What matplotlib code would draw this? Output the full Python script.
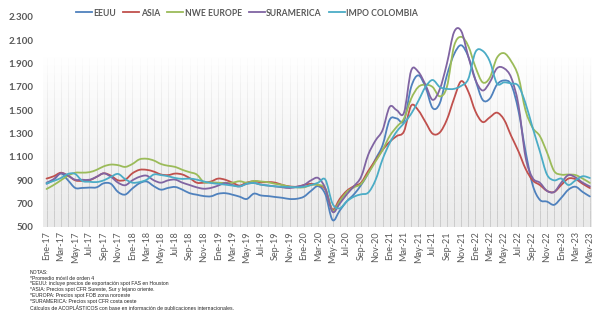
import matplotlib
matplotlib.use("Agg")
import matplotlib.pyplot as plt
import numpy as np
from matplotlib.ticker import FuncFormatter, FixedLocator
from matplotlib.collections import LineCollection
from matplotlib.path import Path
from matplotlib.patches import PathPatch
from matplotlib.lines import Line2D

# ---------------- data ----------------
month_names = ["Ene", "Feb", "Mar", "Abr", "May", "Jun", "Jul", "Ago", "Sep", "Oct", "Nov", "Dic"]
years = [17, 18, 19, 20, 21, 22, 23]
months = [f"{m}-{y}" for y in years for m in month_names][:77]  # Ene-17 .. May-23

eeuu = [870, 905, 960, 900, 835, 835, 838, 840, 875, 870, 800, 778,
        830, 875, 890, 850, 820, 835, 843, 820, 790, 777, 765, 763,
        785, 790, 777, 760, 740, 786, 770, 765, 757, 750, 740, 742,
        760, 810, 850, 780, 560, 640, 720, 780, 860, 960, 1080, 1200,
        1420, 1430, 1410, 1700, 1800, 1700, 1520, 1560, 1800, 1980,
        2058, 1960, 1760, 1590, 1600, 1720, 1756, 1720, 1500, 1150,
        860, 733, 718, 690, 750, 820, 845, 800, 762]

asia = [915, 935, 965, 940, 900, 895, 900, 930, 960, 940, 900, 905,
        960, 990, 990, 975, 950, 945, 958, 950, 920, 880, 880, 890,
        915, 905, 880, 855, 880, 892, 883, 885, 880, 860, 848, 845,
        860, 870, 860, 820, 650, 740, 810, 850, 880, 980, 1070, 1160,
        1230, 1280, 1320, 1540, 1500, 1400, 1300, 1310, 1420, 1600,
        1750, 1660, 1490, 1400, 1440, 1480, 1420, 1280, 1150, 1000,
        900, 860, 810, 800, 860, 915, 910, 870, 834]

nwe_europe = [826, 860, 900, 940, 965, 966, 970, 990, 1020, 1035, 1030, 1015,
              1040, 1080, 1085, 1070, 1040, 1025, 1015, 990, 970, 950, 885, 883,
              880, 877, 880, 892, 880, 895, 890, 883, 870, 860, 845, 840,
              840, 860, 860, 830, 640, 720, 800, 840, 870, 960, 1060, 1160,
              1280, 1360, 1430, 1600, 1700, 1720, 1700, 1620, 1700, 2050,
              2130, 2050, 1870, 1740, 1780, 1950, 1990, 1920, 1790, 1500,
              1350, 1280, 1140, 980, 949, 950, 945, 915, 878]

suramerica = [880, 910, 960, 940, 905, 905, 905, 930, 960, 930, 880, 858,
              900, 930, 940, 900, 880, 900, 906, 880, 860, 840, 828, 835,
              855, 877, 860, 848, 870, 877, 863, 855, 848, 840, 834, 845,
              860, 900, 920, 830, 630, 700, 780, 850, 930, 1120, 1240, 1330,
              1530, 1500, 1480, 1840, 1830, 1720, 1590, 1680, 1900, 2170,
              2180, 1960, 1760, 1670, 1740, 1860, 1860, 1780, 1550, 1100,
              920, 880, 810, 800, 880, 945, 925, 880, 848]

impo_colombia = [875, 895, 920, 955, 955, 895, 888, 885, 900, 930, 955, 910,
                 880, 885, 905, 950, 945, 935, 920, 912, 915, 906, 890, 877,
                 870, 863, 855, 848, 870, 877, 863, 855, 848, 845, 843, 840,
                 845, 860, 880, 906, 700, 660, 720, 760, 780, 795, 900, 1080,
                 1220, 1320, 1390, 1470, 1580, 1700, 1760, 1700, 1684, 1684,
                 1710, 1770, 2000, 2010, 1920, 1730, 1740, 1730, 1710, 1560,
                 1350, 1150, 950, 900, 915, 860, 900, 935, 920]

series_names = ["EEUU", "ASIA", "NWE EUROPE", "SURAMERICA", "IMPO COLOMBIA"]
series_values = [eeuu, asia, nwe_europe, suramerica, impo_colombia]
series_colors = ["#4f81bd", "#c0504d", "#9bbb59", "#8064a2", "#4bacc6"]

y_ticks = [500, 700, 900, 1100, 1300, 1500, 1700, 1900, 2100, 2300]

notes = [
    "NOTAS:",
    "*Promedio móvil de orden 4",
    "*EEUU: incluye precios de exportación spot FAS en Houston",
    "*ASIA: Precios spot CFR Sureste, Sur y lejano oriente.",
    "*EUROPA: Precios spot FOB zona noroeste",
    "*SURAMERICA: Precios spot CFR costa oeste",
    "Cálculos de ACOPLÁSTICOS con base en información de publicaciones internacionales.",
]


def smooth_path(xs, ys):
    """Excel-like smoothed line: cubic Bezier segments through every data point."""
    xs = np.asarray(xs, float)
    ys = np.asarray(ys, float)
    n = len(xs)
    verts = [(xs[0], ys[0])]
    codes = [Path.MOVETO]
    for i in range(n - 1):
        i0 = max(i - 1, 0)
        i3 = min(i + 2, n - 1)
        c1 = (xs[i] + (xs[i + 1] - xs[i0]) / 6.0, ys[i] + (ys[i + 1] - ys[i0]) / 6.0)
        c2 = (xs[i + 1] - (xs[i3] - xs[i]) / 6.0, ys[i + 1] - (ys[i3] - ys[i]) / 6.0)
        verts += [c1, c2, (xs[i + 1], ys[i + 1])]
        codes += [Path.CURVE4] * 3
    return Path(verts, codes)


# ---------------- figure ----------------
W, H = 592, 310
fig = plt.figure(figsize=(W / 100, H / 100), dpi=100)
fig.patch.set_facecolor("white")
ax = fig.add_axes([43 / W, 83 / H, (W - 43) / W, (227 - 17) / H])

x = np.arange(len(months))
xmax = len(months) - 0.7
ax.set_xlim(-0.5, xmax)
ax.set_ylim(500, 2300)

# gradient background (light gray at the bottom fading to white)
grad = np.linspace(0, 1, 256).reshape(-1, 1)
ax.imshow(grad, extent=(-0.5, xmax, 500, 1950), origin="lower",
          aspect="auto", cmap=matplotlib.colors.LinearSegmentedColormap.from_list(
              "g", ["#eaeaea", "#ffffff"]), zorder=0)

# vertical gridlines, fading upward
segs = []
cols = []
nseg = 20
levels = np.linspace(500, 1950, nseg + 1)
for xi in x:
    for k in range(nseg):
        segs.append([(xi, levels[k]), (xi, levels[k + 1])])
        a = min(1.0, 1.1 * (1 - k / nseg))
        cols.append((0.78, 0.78, 0.78, a))
ax.add_collection(LineCollection(segs, colors=cols, linewidths=0.6, zorder=1))

handles = []
for name, vals, c in zip(series_names, series_values, series_colors):
    patch = PathPatch(smooth_path(x, vals), facecolor="none", edgecolor=c, lw=1.3,
                      zorder=3, joinstyle="round", capstyle="round")
    ax.add_patch(patch)
    handles.append(Line2D([], [], color=c, lw=1.3, label=name))

for s in ax.spines.values():
    s.set_visible(False)

ax.yaxis.set_major_locator(FixedLocator(y_ticks))
ax.yaxis.set_major_formatter(FuncFormatter(lambda v, p: f"{int(v):,}".replace(",", ".")))
ax.tick_params(axis="y", length=0, pad=7, labelsize=7, labelcolor="#595959")
for lab in ax.get_yticklabels():
    lab.set_fontweight("bold")
    lab.set_family("Lato")

ax.set_xticks(x[::2])
ax.set_xticklabels(months[::2], rotation=90, fontsize=6.5, color="#595959", family="Lato")
ax.tick_params(axis="x", length=0, pad=3)

leg = fig.legend(handles=handles, loc="center", bbox_to_anchor=(247 / W, 1 - 13 / H), ncol=5,
                 frameon=False, handlelength=1.9, handletextpad=0.15, columnspacing=0.8,
                 prop={"family": "Lato", "weight": "bold", "size": 6.2})
for t in leg.get_texts():
    t.set_color("#595959")

for k, line in enumerate(notes):
    fig.text(30 / W, 1 - (272 + 6 * k) / H, line, fontsize=3.7, family="Liberation Sans",
             color="#222222", va="center", ha="left")

fig.savefig("out.png", dpi=100)
